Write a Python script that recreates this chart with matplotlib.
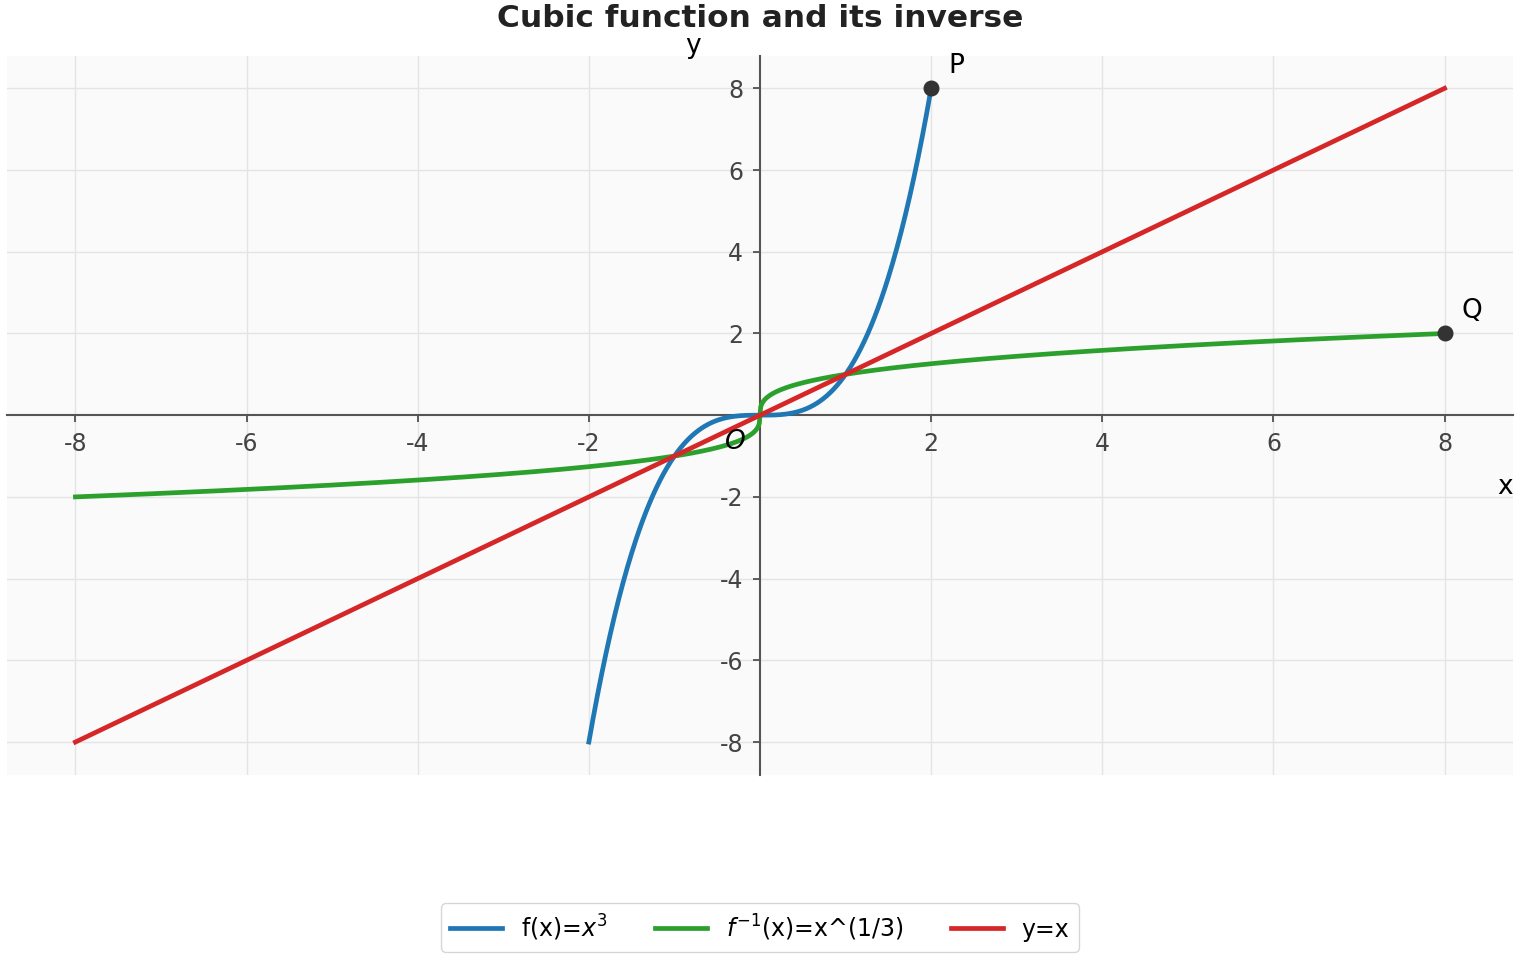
import numpy as np
import matplotlib
matplotlib.use("Agg")
import matplotlib.pyplot as plt

plt.rcParams['axes.unicode_minus'] = False

# datos de las curvas
x_cubic = np.linspace(-2, 2, 400)
y_cubic = x_cubic ** 3
x_inv = np.linspace(-8, 8, 2001)
y_inv = np.cbrt(x_inv)
x_line = np.array([-8, 8])
y_line = np.array([-8, 8])

# puntos marcados
pts_x = [2, 8]
pts_y = [8, 2]
pts_names = ["P", "Q"]

ticks = [-8, -6, -4, -2, 2, 4, 6, 8]
tick_labels = ["-8", "-6", "-4", "-2", "2", "4", "6", "8"]

fig = plt.figure(figsize=(15.2, 9.6), dpi=100)
ax = fig.add_axes([0.0046, 0.193, 0.9908, 0.749])
ax.set_facecolor("#fafafa")

ax.plot(x_cubic, y_cubic, color="#1f77b4", lw=3.4, label="f(x)=$x^3$", zorder=3)
ax.plot(x_inv, y_inv, color="#2ca02c", lw=3.4, label="$f^{-1}$(x)=x^(1/3)", zorder=3)
ax.plot(x_line, y_line, color="#d62728", lw=3.4, label="y=x", zorder=3)

ax.plot(pts_x, pts_y, 'o', color="#333333", ms=10.5, zorder=4)
offsets = {"P": (0.29, 0.55), "Q": (0.32, 0.56)}
for px, py, name in zip(pts_x, pts_y, pts_names):
    dx, dy = offsets[name]
    ax.text(px + dx, py + dy, name, fontsize=19, ha="center", va="center")
ax.text(-0.29, -0.65, "$O$", fontsize=19, ha="center", va="center")

ax.set_xlim(-8.8, 8.8)
ax.set_ylim(-8.8, 8.8)

ax.spines['left'].set_position(('data', 0))
ax.spines['bottom'].set_position(('data', 0))
ax.spines['top'].set_visible(False)
ax.spines['right'].set_visible(False)
for s in ['left', 'bottom']:
    ax.spines[s].set_color("#555555")
    ax.spines[s].set_linewidth(1.5)

ax.set_xticks(ticks)
ax.set_xticklabels(tick_labels)
ax.set_yticks(ticks)
ax.set_yticklabels(tick_labels)
ax.tick_params(axis='both', colors="#444444", labelsize=17, length=5, width=1.2, pad=7)
ax.grid(True, color="#e4e4e4", lw=1)
ax.set_axisbelow(True)

ax.text(0.995, 0.40, "x", transform=ax.transAxes, fontsize=19, ha="center", va="center")
ax.text(0.4555, 1.014, "y", transform=ax.transAxes, fontsize=19, ha="center", va="center")

fig.suptitle("Cubic function and its inverse", fontsize=22.5, fontweight="bold",
             color="#222222", y=0.996)

leg = fig.legend(loc="lower center", bbox_to_anchor=(0.5, -0.004), ncol=3,
                 fontsize=17, frameon=True, handlelength=2.2, columnspacing=2.0)
leg.get_frame().set_edgecolor("#cccccc")

fig.savefig("out.png", dpi=100)
